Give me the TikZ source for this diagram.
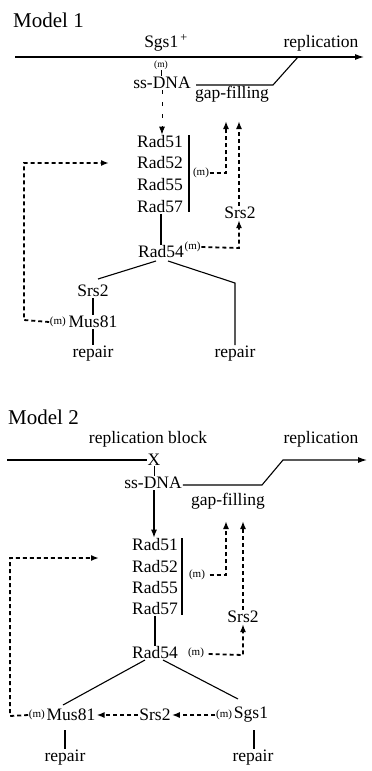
\documentclass[tikz,border=0pt]{standalone}
\usepackage{fontspec}
\setmainfont{Liberation Serif}
\usetikzlibrary{arrows.meta}
\begin{document}
\begin{tikzpicture}[x=1pt,y=-1pt,
  txt/.style={inner sep=1pt, font=\fontsize{17.5}{19}\selectfont},
  ttl/.style={inner sep=0pt, anchor=west, font=\fontsize{21}{24}\selectfont},
  sm/.style={inner sep=0.5pt, font=\fontsize{11}{12}\selectfont},
  ln/.style={line width=1.1pt},
  tn/.style={line width=0.9pt},
  dsh/.style={line width=1.8pt, dash pattern=on 4pt off 3pt},
  tdsh/.style={line width=0.9pt, dash pattern=on 4pt off 8pt},
  tip/.style={-{Latex[length=8pt,width=6pt]}},
  btip/.style={-{Latex[length=9pt,width=6pt]}},
]
\useasboundingbox (0,0) rectangle (372,771);
% ================= Model 1 =================
\node[ttl] (t1) at (13,20) {Model 1};
\node[txt] (sgs1p) at (166,43) {Sgs1\textsuperscript{\,+}};
\node[txt] (rep1) at (321,43) {replication};
\coordinate (l1s) at (15,57);
\coordinate (l1e) at (364,57);
\draw[ln,btip] (l1s) -- (l1e);
\node[sm,font=\fontsize{9.5}{10}\selectfont] (m1) at (161,65) {(m)};
\node[txt] (ss1) at (162,83) {ss-DNA};
\node[txt] (gf1) at (232,94) {gap-filling};
\coordinate (g1a) at (196,85);
\coordinate (g1b) at (273,85);
\coordinate (g1c) at (298,57);
\draw[ln] (g1a) -- (g1b) -- (g1c);
\draw[tn] (m1.south) -- (ss1.north -| m1.south);
\node[txt] (r51a) at (160,142) {Rad51};
\node[txt] (r52a) at (160,163) {Rad52};
\node[txt] (r55a) at (160,185) {Rad55};
\node[txt] (r57a) at (160,207) {Rad57};
\draw[tdsh,tip] (ss1.south) -- (r51a.north -| ss1.south);
\coordinate (bar1t) at (189,135);
\coordinate (bar1b) at (189,212);
\draw[ln] (bar1t) -- (bar1b);
\node[sm] (mb1) at (201,173) {(m)};
\node[txt] (srs2a) at (240,213) {Srs2};
\node[txt] (rad54a) at (161,252) {Rad54};
\node[sm,anchor=west] (m54a) at (184,247) {(m)};
\coordinate (c1) at (226,173);
\draw[dsh,tip] (mb1.east) -- (c1) -- (226,121);
\draw[dsh,tip] (srs2a.north -| 239,0) -- (239,121);
\coordinate (c2) at (239,248);
\draw[dsh,tip] (m54a.east) -- (c2) -- (srs2a.south -| c2);
\draw[ln] (r57a.south -| rad54a.north) -- (rad54a.north);
\node[txt] (srs2b) at (93,291) {Srs2};
\node[txt] (mus81a) at (93,322) {Mus81};
\node[sm,anchor=east] (mma) at ([xshift=-1pt]mus81a.west) {(m)};
\node[txt] (rep1a) at (93,354) {repair};
\node[txt] (rep1b) at (235,354) {repair};
\coordinate (c3) at (235,283);
\draw[ln] (156,261) -- (98,279);
\draw[ln] (168,261) -- (c3) -- (rep1b.north);
\draw[ln] (srs2b.south) -- (mus81a.north);
\draw[ln] (mus81a.south) -- (rep1a.north);
\coordinate (c4) at (24,320);
\coordinate (c5) at (24,163);
\draw[dsh,tip] (mma.west) -- (c4) -- (c5) -- (109,163);
% ================= Model 2 =================
\node[ttl] (t2) at (8,417) {Model 2};
\node[txt] (rb) at (148,439) {replication block};
\node[txt] (rep2) at (321,439) {replication};
\node[txt,inner sep=0pt] (X) at (154,460) {X};
\coordinate (l2s) at (7,460);
\draw[ln] (l2s) -- (X.west);
\node[txt] (ss2) at (153,483) {ss-DNA};
\draw[tn] (X.south) -- (ss2.north -| X.south);
\coordinate (h1) at (262,485);
\coordinate (h2) at (283,460);
\coordinate (l2e) at (367,460);
\draw[ln,btip] (ss2.east |- h1) -- (h1) -- (h2) -- (l2e);
\node[txt] (gf2) at (228,501) {gap-filling};
\node[txt] (r51b) at (155,545) {Rad51};
\node[txt] (r52b) at (155,567) {Rad52};
\node[txt] (r55b) at (155,588) {Rad55};
\node[txt] (r57b) at (155,609) {Rad57};
\draw[ln,tip] (ss2.south -| 154,0) -- (r51b.north -| 154,0);
\coordinate (bar2t) at (182,538);
\coordinate (bar2b) at (182,615);
\draw[ln] (bar2t) -- (bar2b);
\node[sm] (mb2) at (197,575) {(m)};
\node[txt] (srs2c) at (243,617) {Srs2};
\node[txt] (rad54b) at (155,653) {Rad54};
\node[sm] (m54b) at (196,653) {(m)};
\coordinate (d1) at (226,575);
\draw[dsh,tip] (mb2.east) ++(4,0) -- (d1) -- (226,521);
\draw[dsh,tip] (srs2c.north -| 243,0) -- (243,521);
\coordinate (d2) at (243,655);
\draw[dsh,tip] (m54b.east) ++(4,1) -- (d2) -- (srs2c.south -| d2);
\draw[ln] (r57b.south) -- (rad54b.north);
\node[txt] (mus81b) at (71,715) {Mus81};
\node[sm,anchor=east] (mmb) at (mus81b.west) {(m)};
\node[txt] (srs2d) at (155,715) {Srs2};
\node[txt] (sgs1b) at (251,715) {Sgs1};
\node[sm,anchor=east] (msb) at (sgs1b.west) {(m)};
\draw[ln] (145,660) -- (63,705);
\draw[ln] (163,660) -- (238,699);
\draw[dsh,tip] (msb.west) -- (srs2d.east);
\draw[dsh,tip] (srs2d.west) -- (mus81b.east);
\node[txt] (rep2a) at (65,758) {repair};
\node[txt] (rep2b) at (253,758) {repair};
\draw[ln] (65,730) -- (rep2a.north);
\draw[ln] (254,730) -- (rep2b.north -| 254,0);
\coordinate (e1) at (10,716);
\coordinate (e2) at (10,558);
\draw[dsh,tip] (mmb.west) -- (e1) -- (e2) -- (99,558);
\end{tikzpicture}
\end{document}
